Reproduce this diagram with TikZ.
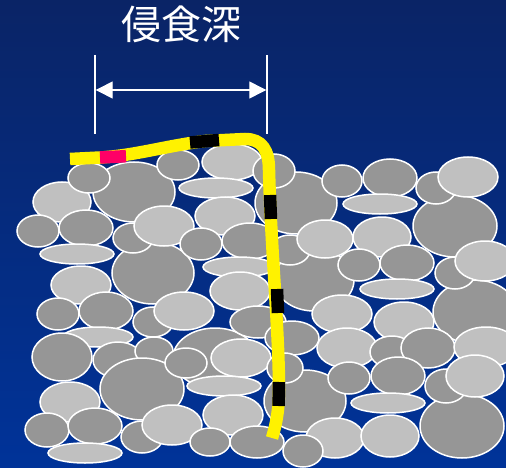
\documentclass[tikz,border=0pt]{standalone}
\usepackage{fontspec}
\newfontfamily\jpfont{Noto Sans CJK JP}
\usetikzlibrary{arrows.meta}
\definecolor{skytop}{RGB}{10,36,102}
\definecolor{skybottom}{RGB}{0,51,153}
\definecolor{stonedark}{RGB}{150,150,150}
\definecolor{stonelight}{RGB}{192,192,192}
\definecolor{tapered}{RGB}{255,0,102}
\tikzset{
  stone/.style={draw=white, line width=1.5pt},
  tape/.style={line width=12.5pt, line cap=butt},
  dimline/.style={draw=white, line width=1.3pt},
  dimarrow/.style={draw=white, line width=1.3pt,
    {Triangle[length=17pt,width=17pt]}-{Triangle[length=17pt,width=17pt]}},
  label/.style={text=white, font=\jpfont\fontsize{40}{40}\selectfont, inner sep=0pt},
}
\begin{document}
\begin{tikzpicture}[x=1pt,y=-1pt]
  % background
  \shade[top color=skytop, bottom color=skybottom] (0,0) rectangle (506,468);
  \useasboundingbox (0,0) rectangle (506,468);

  % gravel bed: centre x / centre y / x radius / y radius / fill
  \foreach \x/\y/\a/\b/\c in {
    134/192/41/30/stonedark,
    296/203/41/31/stonedark,
    455/226/42/31/stonedark,
    153/273/41/31/stonedark,
    314/280/40/31/stonedark,
    475/312/42/32/stonedark,
    215/358/42/30/stonedark,
    305/401/41/31/stonedark,
    462/426/42/32/stonedark,
    62/202/29/20/stonelight,
    89/178/21/15/stonedark,
    178/165/21/15/stonedark,
    232/162/30/18/stonelight,
    274/171/21/17/stonedark,
    342/181/20/16/stonedark,
    390/178/27/19/stonedark,
    436/188/20/16/stonedark,
    468/177/30/20/stonelight,
    216/188/37/10/stonelight,
    380/204/37/10/stonelight,
    225/216/30/19/stonelight,
    38/231/21/16/stonedark,
    86/228/27/18/stonedark,
    77/254/37/10/stonelight,
    133/238/20/15/stonedark,
    164/226/30/20/stonelight,
    201/244/21/16/stonedark,
    250/241/28/18/stonedark,
    239/267/36/10/stonelight,
    290/250/20/15/stonedark,
    325/239/28/19/stonelight,
    382/237/29/20/stonelight,
    359/265/21/16/stonedark,
    407/263/27/18/stonedark,
    397/289/37/10/stonelight,
    455/273/20/16/stonedark,
    485/261/30/20/stonelight,
    81/285/30/19/stonelight,
    58/314/21/16/stonedark,
    106/311/27/19/stonedark,
    98/337/35/10/stonelight,
    118/360/25/18/stonedark,
    154/351/19/14/stonedark,
    142/389/42/31/stonedark,
    62/357/30/24/stonedark,
    153/322/20/15/stonedark,
    184/311/30/19/stonelight,
    240/291/30/19/stonelight,
    258/322/28/16/stonedark,
    186/363/21/15/stonedark,
    241/358/30/19/stonelight,
    342/314/30/19/stonelight,
    404/322/30/20/stonelight,
    292/338/27/17/stonedark,
    285/368/18/15/stonedark,
    347/348/30/20/stonelight,
    392/352/22/16/stonedark,
    428/348/27/20/stonedark,
    486/347/32/20/stonelight,
    349/378/21/16/stonedark,
    398/376/27/19/stonedark,
    446/386/21/17/stonedark,
    475/376/29/21/stonelight,
    224/386/37/10/stonelight,
    388/403/37/10/stonelight,
    70/402/30/20/stonelight,
    47/430/22/17/stonedark,
    95/426/27/18/stonedark,
    85/453/37/10/stonelight,
    142/437/21/16/stonedark,
    172/425/30/20/stonelight,
    233/415/30/20/stonelight,
    210/442/20/14/stonedark,
    257/442/27/16/stonedark,
    335/438/29/20/stonelight,
    390/436/29/21/stonelight,
    303/451/20/16/stonedark}
    \draw[stone, fill=\c] (\x,\y) ellipse ({\a pt} and {\b pt});

  % measuring tape laid over the bed
  \draw[tape, yellow] (70,159) -- (100,157.5)
    .. controls (135,155.5) and (165,146) .. (205,141) -- (245,139)
    .. controls (262,139) and (269,150) .. (269,170)
    .. controls (271,250) and (279,330) .. (279,390)
    .. controls (279,410) and (276,425) .. (272,438);
  \draw[tape, tapered] (100,157.5) -- (126,156.2);
  \draw[tape, black] (190,142.5) -- (219,140);
  \draw[tape, black] (270,195) -- (271,219);
  \draw[tape, black] (277,289) -- (278,313);
  \draw[tape, black] (279,382) -- (278.6,406);

  % dimension for the erosion depth
  \coordinate (dimLtop) at (95,55);
  \coordinate (dimLbot) at (95,134);
  \coordinate (dimRtop) at (267,55);
  \coordinate (dimRbot) at (267,134);
  \coordinate (arrL) at (95.7,90);
  \coordinate (arrR) at (266.3,90);
  \draw[dimline] (dimLtop) -- (dimLbot);
  \draw[dimline] (dimRtop) -- (dimRbot);
  \draw[dimarrow] (arrL) -- (arrR);

  \node[label] (title) at (181,24) {侵食深};
\end{tikzpicture}
\end{document}
